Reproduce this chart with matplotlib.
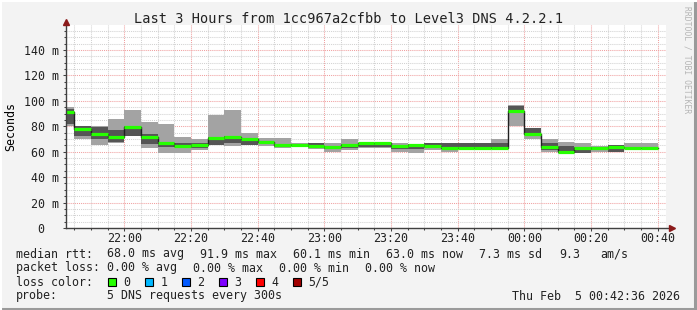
import matplotlib
matplotlib.use("Agg")
import matplotlib.pyplot as plt
import matplotlib.dates as mdates
from matplotlib.patches import Rectangle
from matplotlib.ticker import MultipleLocator, FuncFormatter
import numpy as np
import pandas as pd

# bin end times (5 min steps) and the 5 sorted pings per bin (ms)
bin_end = pd.date_range("2026-02-04 21:45", "2026-02-05 00:40", freq="5min")
p_min = [80.3, 69.9, 65.4, 67.2, 72.7, 63.3, 59.3, 59.3, 61.4, 65.1, 64.1, 65.1,
         64.1, 62.8, 64.1, 62.5, 60.1, 61.4, 63.3, 63.3, 60.1, 59.3, 61.5, 60.1,
         61.8, 63.0, 62.5, 80.3, 69.9, 60.1, 59.6, 59.3, 60.1, 59.6, 63.0, 63.0]
p_lo = [82.1, 72.7, 69.9, 68.0, 72.7, 66.1, 63.5, 63.5, 63.3, 65.1, 66.7, 65.1,
        67.5, 64.0, 64.8, 63.5, 62.0, 63.3, 63.8, 63.8, 62.5, 62.5, 63.0, 62.0,
        61.8, 63.0, 62.8, 90.8, 73.5, 61.5, 59.8, 59.3, 61.5, 59.6, 63.0, 63.0]
median = [91.3, 78.2, 74.3, 71.2, 79.5, 71.4, 66.7, 64.1, 65.4, 70.8, 71.7, 69.6,
          68.0, 64.9, 65.6, 64.1, 63.5, 65.4, 66.8, 66.8, 64.1, 65.4, 64.1, 63.3,
          63.3, 63.3, 63.3, 91.9, 74.3, 63.5, 60.1, 62.8, 63.3, 63.5, 63.3, 63.0]
p_hi = [93.7, 80.0, 79.8, 77.2, 80.6, 74.0, 67.5, 66.7, 66.7, 71.5, 72.7, 70.6,
        68.5, 65.5, 66.1, 66.7, 64.5, 66.1, 67.0, 67.0, 65.0, 66.1, 67.2, 67.2,
        67.2, 67.2, 67.2, 96.3, 78.3, 66.7, 64.1, 63.8, 63.8, 65.4, 64.0, 63.3]
p_max = [95.0, 80.3, 80.0, 85.8, 92.9, 83.7, 82.1, 71.7, 70.1, 89.0, 92.9, 75.0,
         70.6, 70.6, 66.6, 66.7, 66.7, 70.1, 67.2, 67.2, 67.2, 66.1, 67.2, 67.2,
         67.2, 67.2, 70.1, 96.9, 78.5, 70.1, 68.0, 66.7, 64.1, 65.4, 67.2, 67.2]

loss_labels = ["0", "1", "2", "3", "4", "5/5"]
loss_colors = ["#26ff00", "#00b8ff", "#0059ff", "#7e00ff", "#ff0000", "#a10000"]

mono = "DejaVu Sans Mono"
W, H = 697, 310

fig = plt.figure(figsize=(W / 100, H / 100), dpi=100, facecolor="#f3f3f3")
ax = fig.add_axes([66.3 / W, 82 / H, 600 / W, 203.2 / H])
ax.set_facecolor("white")

ends = mdates.date2num(bin_end)
step = 5 / 1440
starts = ends - step
p_min, p_lo, median, p_hi, p_max = map(np.array, (p_min, p_lo, median, p_hi, p_max))

# smoke
ax.bar(starts, p_max - p_min, bottom=p_min, width=step, align="edge",
       color="#a3a3a3", linewidth=0, zorder=2)
ax.bar(starts, p_hi - p_lo, bottom=p_lo, width=step, align="edge",
       color="#555555", linewidth=0, zorder=3)

# median: dark connector line + green segments (loss 0)
ax.step(np.append(starts, ends[-1]), np.append(median, median[-1]), where="post",
        color="#202020", lw=1, zorder=4)
ax.hlines(median, starts, ends, color=loss_colors[0], lw=2.3, zorder=5)

x0 = mdates.date2num(pd.Timestamp("2026-02-04 21:42:36"))
x1 = mdates.date2num(pd.Timestamp("2026-02-05 00:42:36"))
ax.set_xlim(x0, x1)
ax.set_ylim(0, 159.8)

ax.xaxis.set_major_locator(mdates.MinuteLocator(byminute=[0, 20, 40]))
ax.xaxis.set_minor_locator(mdates.MinuteLocator(byminute=range(0, 60, 5)))
ax.xaxis.set_major_formatter(mdates.DateFormatter("%H:%M"))
ax.yaxis.set_major_locator(MultipleLocator(20))
ax.yaxis.set_minor_locator(MultipleLocator(5))
ax.yaxis.set_major_formatter(FuncFormatter(lambda v, p: f"{int(v)} m" if v else "0  "))

ax.grid(which="minor", color="#d2d2d2", ls=(0, (1, 1)), lw=0.75)
ax.grid(which="major", color="#f0a0a0", ls=(0, (1, 1)), lw=0.75)
ax.set_axisbelow(True)

for s in ax.spines.values():
    s.set_visible(False)
ax.tick_params(which="both", color="#404040", width=0.75)
ax.tick_params(which="major", length=2.2)
ax.tick_params(which="minor", length=1.5)
ax.tick_params(axis="x", pad=0.8)
ax.tick_params(axis="y", pad=3)
for lab in ax.get_xticklabels() + ax.get_yticklabels():
    lab.set_fontfamily(mono)
    lab.set_fontsize(8.4)
    lab.set_color("#222222")

# axis lines with arrows
ax.plot([0, 0], [0, 1.012], transform=ax.transAxes, color="#404040", lw=1,
        clip_on=False, zorder=6)
ax.plot([0, 1.008], [0, 0], transform=ax.transAxes, color="#404040", lw=1,
        clip_on=False, zorder=6)
ax.plot(0, 1.015, marker="^", ms=5, color="#8b1a1a", transform=ax.transAxes,
        clip_on=False, zorder=7)
ax.plot(1.01, 0, marker=">", ms=5, color="#8b1a1a", transform=ax.transAxes,
        clip_on=False, zorder=7)

ax.set_ylabel("Seconds", family=mono, fontsize=8.4, labelpad=5)

def ftext(x, y, s, **kw):
    kw.setdefault("family", mono)
    kw.setdefault("fontsize", 8.4)
    kw.setdefault("color", "#222222")
    fig.text(x / W, 1 - y / H, s, va="center", **kw)

ftext(348.5, 19, "Last 3 Hours from 1cc967a2cfbb to Level3 DNS 4.2.2.1",
      ha="center", fontsize=9.8)
ftext(687, 60, "RRDTOOL / TOBI OETIKER", rotation=270, ha="center",
      fontsize=5.8, color="#b5b5b5")

ftext(16, 254, "median rtt:")
ftext(107, 254, "68.0 ms avg")
ftext(200, 254, "91.9 ms max")
ftext(293, 254, "60.1 ms min")
ftext(386, 254, "63.0 ms now")
ftext(479, 254, "7.3 ms sd")
ftext(559, 254, "9.3")
ftext(600, 254, "am/s")

ftext(16, 268, "packet loss:")
ftext(107, 268, "0.00 % avg")
ftext(193, 268, "0.00 % max")
ftext(279, 268, "0.00 % min")
ftext(365, 268, "0.00 % now")

ftext(16, 282, "loss color:")
for i, (lab, col) in enumerate(zip(loss_labels, loss_colors)):
    bx = 108.3 + i * 37
    fig.patches.append(Rectangle((bx / W, 1 - 286 / H), 8 / W, 8 / H,
                                 transform=fig.transFigure, facecolor=col,
                                 edgecolor="black", lw=0.8))
    ftext(bx + 15, 282, lab)

ftext(16, 296, "probe:")
ftext(107, 296, "5 DNS requests every 300s")
ftext(680, 296, "Thu Feb  5 00:42:36 2026", ha="right")

# image frame
fig.add_artist(plt.Line2D([0, 1], [0.004, 0.004], transform=fig.transFigure,
                          color="#9a9a9a", lw=2.2))
fig.add_artist(plt.Line2D([0.997, 0.997], [0, 1], transform=fig.transFigure,
                          color="#9a9a9a", lw=2.2))
fig.add_artist(plt.Line2D([0, 1], [0.997, 0.997], transform=fig.transFigure,
                          color="#ffffff", lw=1.5))
fig.add_artist(plt.Line2D([0.002, 0.002], [0, 1], transform=fig.transFigure,
                          color="#ffffff", lw=1.5))

fig.savefig("out.png", dpi=100, facecolor=fig.get_facecolor())
